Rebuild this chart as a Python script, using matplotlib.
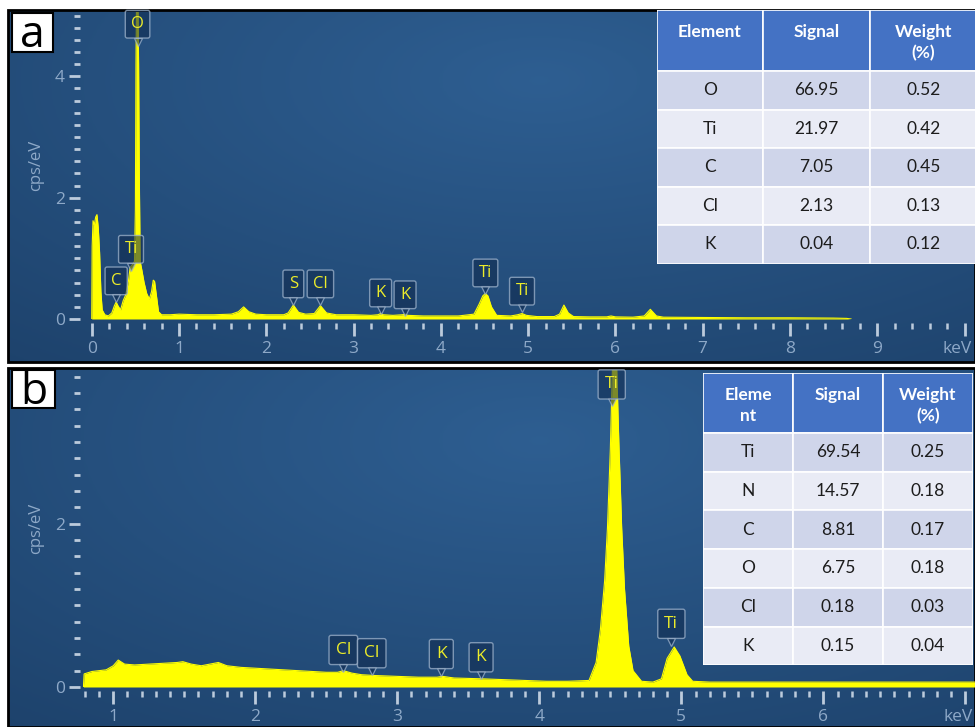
import numpy as np
import matplotlib
matplotlib.use("Agg")
import matplotlib.pyplot as plt
from matplotlib.patches import Rectangle
from matplotlib.transforms import offset_copy, ScaledTranslation

# ---- spectrum a (energy in keV, counts in cps/eV) ----
energy_a = [0.000, 0.005, 0.015, 0.030, 0.045, 0.060, 0.075, 0.090, 0.105, 0.120,
            0.150, 0.190, 0.230, 0.260, 0.280, 0.300, 0.330, 0.360, 0.390, 0.420,
            0.440, 0.470, 0.490, 0.500, 0.507, 0.513, 0.530, 0.537, 0.545, 0.555,
            0.575, 0.600, 0.630, 0.660, 0.685, 0.705, 0.720, 0.740, 0.765, 0.800,
            0.900, 1.000, 1.200, 1.400, 1.600, 1.680, 1.740, 1.800, 1.880, 2.000,
            2.200, 2.250, 2.310, 2.370, 2.450, 2.550, 2.620, 2.690, 2.800, 3.000,
            3.200, 3.280, 3.310, 3.340, 3.450, 3.560, 3.590, 3.620, 3.800, 4.000,
            4.200, 4.380, 4.440, 4.480, 4.510, 4.540, 4.580, 4.640, 4.800, 4.880,
            4.930, 4.980, 5.100, 5.300, 5.360, 5.410, 5.460, 5.520, 5.700, 5.900,
            5.950, 6.000, 6.200, 6.330, 6.400, 6.470, 6.550, 7.000, 7.500, 8.000,
            8.500, 8.650, 8.700]
counts_a = [0.00, 1.20, 1.62, 1.55, 1.68, 1.72, 1.50, 1.10, 0.45, 0.15,
            0.07, 0.05, 0.10, 0.22, 0.28, 0.22, 0.15, 0.30, 0.40, 0.62,
            0.85, 0.90, 0.95, 1.80, 4.20, 5.20, 5.20, 4.20, 2.40, 0.95,
            0.80, 0.60, 0.42, 0.33, 0.45, 0.64, 0.62, 0.40, 0.12, 0.07,
            0.07, 0.08, 0.07, 0.07, 0.08, 0.12, 0.20, 0.12, 0.08, 0.07,
            0.07, 0.10, 0.23, 0.11, 0.08, 0.09, 0.22, 0.10, 0.07, 0.07,
            0.06, 0.07, 0.09, 0.07, 0.06, 0.07, 0.08, 0.06, 0.05, 0.05,
            0.05, 0.08, 0.25, 0.38, 0.42, 0.38, 0.20, 0.06, 0.05, 0.07,
            0.09, 0.06, 0.04, 0.04, 0.08, 0.23, 0.10, 0.04, 0.035, 0.035,
            0.05, 0.035, 0.03, 0.05, 0.16, 0.05, 0.03, 0.025, 0.02, 0.02,
            0.015, 0.01, 0.0]

# ---- spectrum b ----
energy_b = [0.790, 0.795, 0.850, 0.950, 1.000, 1.035, 1.080, 1.150, 1.250, 1.350,
            1.450, 1.490, 1.550, 1.620, 1.680, 1.740, 1.800, 1.900, 2.000, 2.100,
            2.200, 2.300, 2.400, 2.500, 2.580, 2.620, 2.680, 2.750, 2.850, 3.000,
            3.150, 3.280, 3.320, 3.400, 3.600, 3.750, 3.900, 4.050, 4.200, 4.350,
            4.400, 4.430, 4.460, 4.480, 4.500, 4.515, 4.545, 4.560, 4.580, 4.600,
            4.630, 4.660, 4.720, 4.800, 4.860, 4.900, 4.950, 4.990, 5.040, 5.080,
            5.200, 5.600, 6.000, 6.500, 7.070]
counts_b = [0.00, 0.16, 0.19, 0.21, 0.26, 0.33, 0.28, 0.27, 0.28, 0.29,
            0.30, 0.31, 0.28, 0.26, 0.28, 0.30, 0.26, 0.24, 0.23, 0.22,
            0.21, 0.20, 0.19, 0.18, 0.18, 0.20, 0.17, 0.15, 0.14, 0.13,
            0.12, 0.12, 0.13, 0.11, 0.10, 0.09, 0.08, 0.07, 0.07, 0.08,
            0.30, 0.70, 1.30, 1.95, 2.90, 3.90, 3.90, 3.00, 1.95, 1.20,
            0.50, 0.20, 0.07, 0.06, 0.10, 0.35, 0.49, 0.38, 0.15, 0.07,
            0.06, 0.06, 0.06, 0.06, 0.06]

# peak tags: element, line energy, height of pointer tip
tag_names_a = ["C", "Ti", "O", "S", "Cl", "K", "K", "Ti", "Ti"]
tag_energy_a = [0.28, 0.45, 0.525, 2.31, 2.62, 3.31, 3.59, 4.51, 4.93]
tag_height_a = [0.30, 0.82, 4.53, 0.25, 0.25, 0.10, 0.07, 0.43, 0.13]

tag_names_b = ["Cl", "Cl", "K", "K", "Ti", "Ti"]
tag_energy_b = [2.62, 2.82, 3.31, 3.59, 4.51, 4.93]
tag_height_b = [0.20, 0.16, 0.15, 0.11, 3.45, 0.52]

# quantification tables
header_a = ["Element", "Signal", "Weight\n(%)"]
elements_a = ["O", "Ti", "C", "Cl", "K"]
signal_a = [66.95, 21.97, 7.05, 2.13, 0.04]
weight_a = [0.52, 0.42, 0.45, 0.13, 0.12]

header_b = ["Eleme\nnt", "Signal", "Weight\n(%)"]
elements_b = ["Ti", "N", "C", "O", "Cl", "K"]
signal_b = [69.54, 14.57, 8.81, 6.75, 0.18, 0.15]
weight_b = [0.25, 0.18, 0.17, 0.18, 0.03, 0.04]

W, H = 975, 727
fig = plt.figure(figsize=(W / 100, H / 100), dpi=100)
fig.patch.set_facecolor("white")


def fx(px):
    return px / W


def fy(py):
    return 1 - py / H


TICK_C = "#bccbdc"
LAB_C = "#8ea9c8"
YEL = "#ffff00"
TAG_FC = (0.06, 0.16, 0.30, 0.55)
TAG_EC = (0.62, 0.70, 0.80, 0.75)
TAG_TXT = "#ecec2a"
HEAD_C = "#4472c4"
BAND1, BAND2 = "#cfd5ea", "#e9ebf5"


def panel_bg(y0, y1):
    bg = fig.add_axes([fx(8), fy(y1), fx(975) - fx(8), fy(y0) - fy(y1)])
    gx, gy = np.meshgrid(np.linspace(0, 1, 240), np.linspace(0, 1, 120))
    d = np.clip(np.hypot((gx - 0.55) / 0.95, (gy - 0.2) / 1.15), 0, 1)
    light = np.array([0.18, 0.37, 0.57])
    dark = np.array([0.11, 0.25, 0.41])
    img = light + (dark - light) * d[..., None]
    bg.imshow(img, aspect="auto", extent=(0, 1, 0, 1), origin="upper")
    bg.set_axis_off()
    bg.add_patch(Rectangle((0, 0), 1, 1, transform=bg.transAxes, fill=False,
                           ec="black", lw=2, clip_on=False))


def spectrum_axes(top, bottom, xlim, ylim, xmajor, xminor, ymajor, yminor):
    ax = fig.add_axes([fx(83), fy(bottom), fx(975) - fx(83), fy(top) - fy(bottom)])
    ax.set_facecolor("none")
    ax.set_xlim(*xlim)
    ax.set_ylim(*ylim)
    for s in ["top", "right"]:
        ax.spines[s].set_visible(False)
    ax.spines["bottom"].set_position(("outward", 3))
    ax.spines["left"].set_position(("outward", 2))
    ax.spines["bottom"].set_color("none")
    ax.spines["left"].set_color("none")

    ax.set_xticks(xmajor)
    ax.set_xticklabels([str(v) for v in xmajor[:-1]] + ["keV"])
    ax.set_xticks(xminor, minor=True)
    ax.set_yticks(ymajor)
    ax.set_yticklabels([str(v) for v in ymajor])
    ax.set_yticks(yminor, minor=True)

    ax.tick_params(axis="x", which="major", length=9.5, width=2, color=TICK_C,
                   pad=3, labelsize=12.5, labelcolor=LAB_C)
    ax.tick_params(axis="x", which="minor", length=4.5, width=1.8, color=TICK_C)
    ax.tick_params(axis="y", which="major", length=8, width=2, color=TICK_C,
                   pad=3, labelsize=12.5, labelcolor=LAB_C)
    ax.tick_params(axis="y", which="minor", length=4.5, width=2, color=TICK_C)
    for lab in ax.get_xticklabels() + ax.get_yticklabels():
        lab.set_family("Open Sans")
    # unit label sits at the last major tick, nudged in from the right edge
    unit = ax.xaxis.get_major_ticks()[-1].label1
    unit.set_transform(unit.get_transform()
                       + ScaledTranslation(-5 / 72, 0, fig.dpi_scale_trans))

    ax.set_ylabel("cps/eV", color=LAB_C, fontsize=12, family="Open Sans")
    ax.yaxis.set_label_coords(-0.044, 0.5)
    return ax


def add_tags(ax, names, energies, heights, fs, pad):
    notch = offset_copy(ax.transData, fig=fig, x=0, y=1.9, units="points")
    for name, e, h in zip(names, energies, heights):
        ax.plot(e, h, marker="v", ms=5.5, mfc=TAG_FC, mec=TAG_EC, mew=0.9,
                transform=notch, clip_on=False, zorder=5)
        ax.annotate(name, xy=(e, h), xytext=(0, 4.4 + pad * fs),
                    textcoords="offset points", ha="center", va="bottom",
                    color=TAG_TXT, fontsize=fs, family="Open Sans",
                    annotation_clip=False, zorder=6,
                    bbox=dict(boxstyle=f"round,pad={pad},rounding_size=0.12",
                              fc=TAG_FC, ec=TAG_EC, lw=1))


def draw_table(left, top, col_w, head_h, row_h, header, cols):
    n = len(cols[0])
    width = col_w * len(cols)
    height = head_h + row_h * n
    tax = fig.add_axes([fx(left), fy(top + height), width / W, height / H])
    tax.set_xlim(0, width)
    tax.set_ylim(height, 0)
    tax.set_axis_off()
    for j, h in enumerate(header):
        tax.add_patch(Rectangle((j * col_w, 0), col_w, head_h, fc=HEAD_C,
                                ec="white", lw=1.2))
        for k, line in enumerate(h.split("\n")):
            tax.text(j * col_w + col_w / 2, 22 + 21 * k, line, ha="center",
                     va="center", color="white", fontsize=12.5,
                     fontweight="bold", family="Lato")
    for i in range(n):
        y = head_h + i * row_h
        fc = BAND1 if i % 2 == 0 else BAND2
        for j, col in enumerate(cols):
            tax.add_patch(Rectangle((j * col_w, y), col_w, row_h, fc=fc,
                                    ec="white", lw=1.2))
            val = col[i] if isinstance(col[i], str) else f"{col[i]:.2f}"
            tax.text(j * col_w + col_w / 2, y + row_h / 2, val, ha="center",
                     va="center", color="#1c1c1c", fontsize=12.5, family="Lato")


def panel_letter(letter, x0, y0, x1, y1, baseline):
    fig.add_artist(Rectangle((fx(x0), fy(y1)), fx(x1) - fx(x0), fy(y0) - fy(y1),
                             transform=fig.transFigure, fc="white", ec="black",
                             lw=1.5, zorder=20))
    fig.text(fx((x0 + x1) / 2), fy(baseline), letter, ha="center", va="baseline",
             fontsize=32, family="Open Sans", color="black", zorder=21)


# panel a
panel_bg(10, 362)
ax_a = spectrum_axes(12, 319, (-0.10, 10.12), (0, 5.06),
                     list(range(0, 11)), np.round(np.arange(0, 10.01, 0.2), 2),
                     [0, 2, 4], np.round(np.arange(0, 5.01, 0.2), 2))
ax_a.fill_between(energy_a, counts_a, 0, color=YEL, lw=0)
ax_a.plot(energy_a, counts_a, color=YEL, lw=0.8)
add_tags(ax_a, tag_names_a, tag_energy_a, tag_height_a, fs=12, pad=0.35)
draw_table(656.7, 10, 106.7, 61, 38.5, header_a, [elements_a, signal_a, weight_a])
panel_letter("a", 12, 13, 53, 52, 47)

# panel b
panel_bg(368, 727)
ax_b = spectrum_axes(370, 687, (0.787, 7.068), (0, 3.88),
                     list(range(1, 8)), np.round(np.arange(0.8, 7.01, 0.1), 2),
                     [0, 2], np.round(np.arange(0, 3.81, 0.2), 2))
ax_b.fill_between(energy_b, counts_b, 0, color=YEL, lw=0)
ax_b.plot(energy_b, counts_b, color=YEL, lw=0.8)
add_tags(ax_b, tag_names_b, tag_energy_b, tag_height_b, fs=12.5, pad=0.38)
draw_table(703, 373, 90, 60, 38.7, header_b, [elements_b, signal_b, weight_b])
panel_letter("b", 12, 370, 55, 408, 404)

fig.savefig("out.png", dpi=100, facecolor="white")
